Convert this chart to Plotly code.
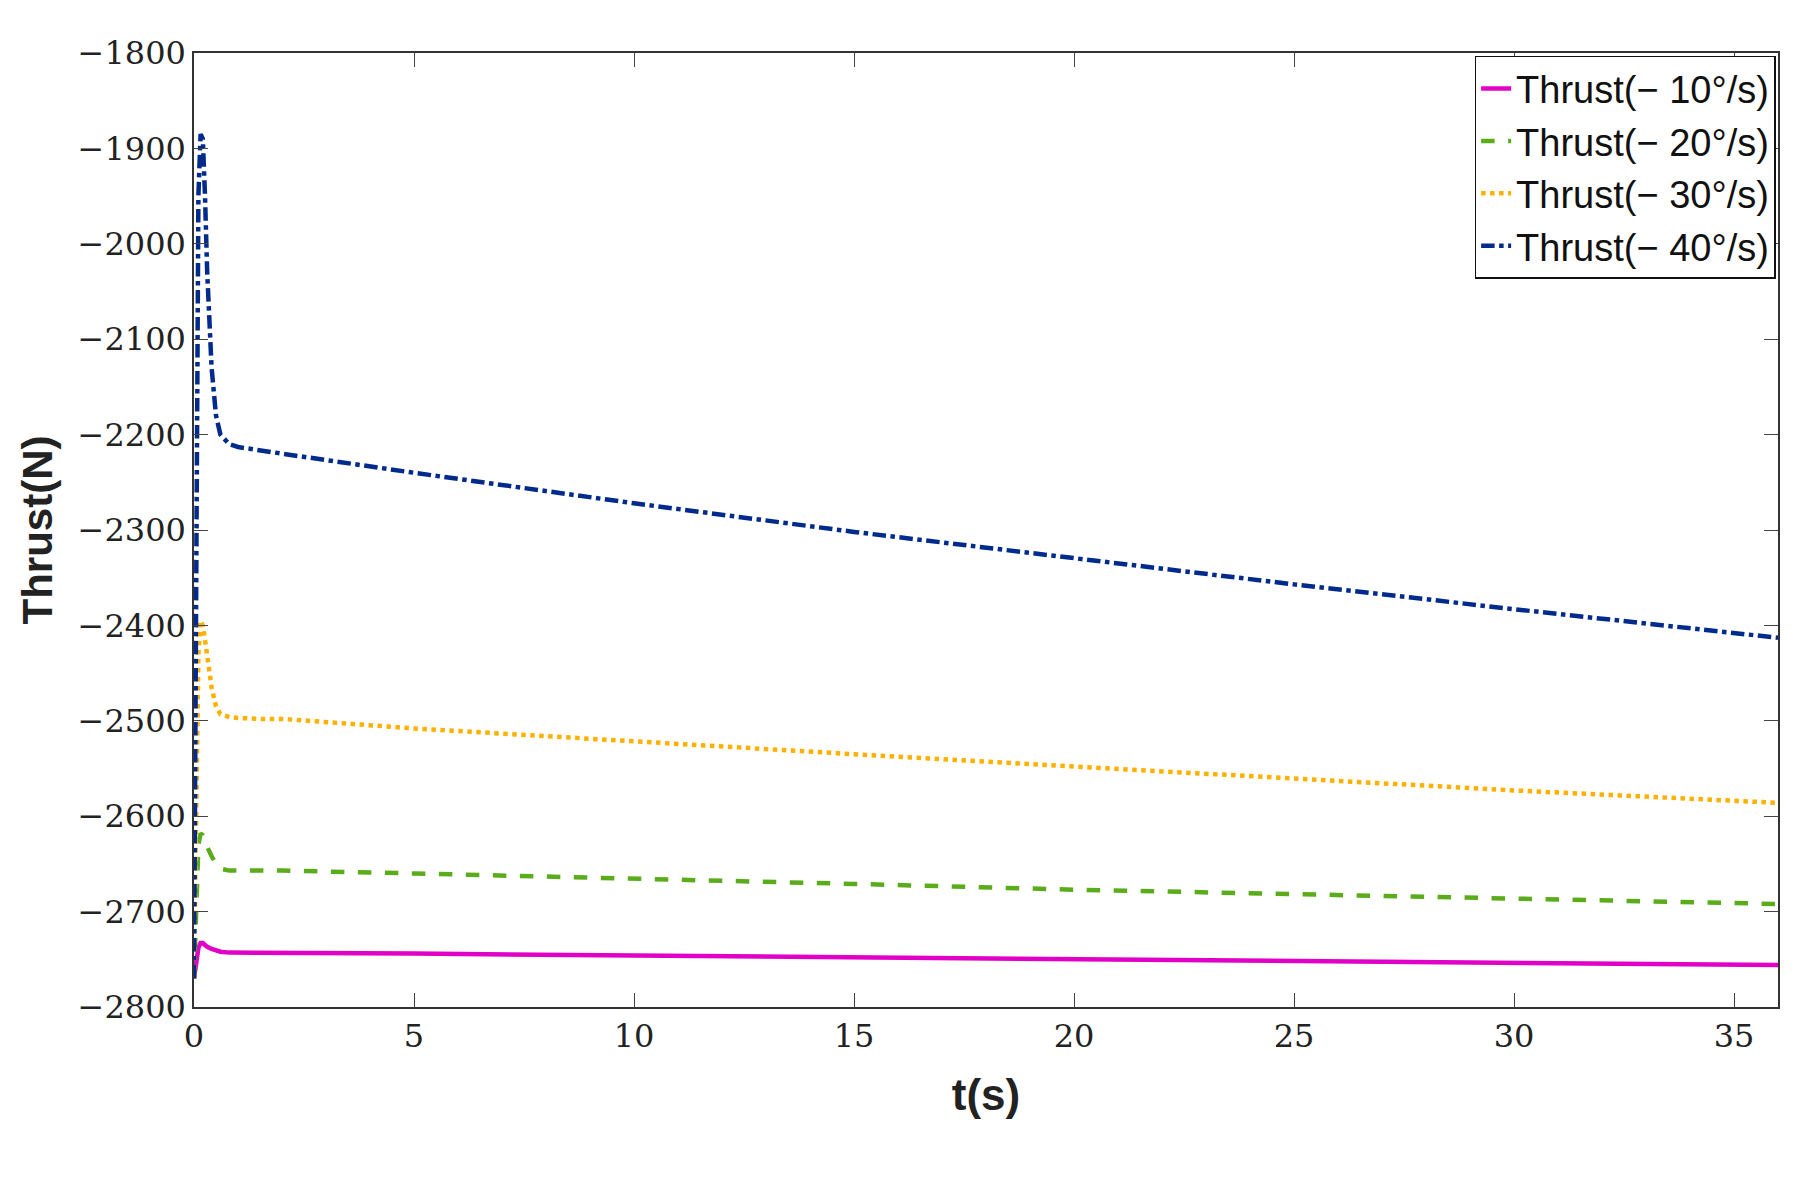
import plotly.graph_objects as go

t = [0, 0.05, 0.1, 0.15, 0.2, 0.25, 0.3, 0.4, 0.5, 0.6, 0.8, 1.0, 1.5, 2, 5, 10, 15, 20, 25, 30, 36]
f10 = [-2770, -2755, -2738, -2733, -2733, -2735, -2737, -2739, -2741, -2742, -2743, -2743, -2743, -2743, -2744, -2746, -2748, -2750, -2752, -2753, -2756]
f20 = [-2770, -2700, -2630, -2618, -2620, -2625, -2632, -2642, -2650, -2655, -2657, -2657, -2657, -2657, -2660, -2665, -2671, -2677, -2682, -2686, -2692]
f30 = [-2770, -2600, -2430, -2395, -2400, -2415, -2435, -2465, -2485, -2493, -2496, -2497, -2498, -2498, -2508, -2522, -2535, -2548, -2561, -2573, -2586]
f40 = [-2770, -2300, -1950, -1885, -1890, -1950, -2030, -2130, -2180, -2200, -2210, -2213, -2216, -2220, -2240, -2272, -2302, -2330, -2357, -2383, -2413]

series = [("Thrust(\u2212 10°/s)", f10, "#e000c8", "solid"),
          ("Thrust(\u2212 20°/s)", f20, "#5aac1a", "dash"),
          ("Thrust(\u2212 30°/s)", f30, "#ffb000", "dot"),
          ("Thrust(\u2212 40°/s)", f40, "#002a8c", "dashdot")]

fig = go.Figure()
for name, y, c, d in series:
    fig.add_trace(go.Scatter(x=t, y=y, name=name, mode="lines",
                             line=dict(color=c, dash=d, width=4.5)))

ax = dict(showline=True, linecolor="#333", linewidth=1.5, mirror="ticks", ticks="inside",
          ticklen=14, showgrid=False, zeroline=False,
          tickfont=dict(family="DejaVu Serif", size=32, color="#222"))
fig.update_layout(
    width=1814, height=1180, plot_bgcolor="white", paper_bgcolor="white",
    margin=dict(l=186, r=44, t=45, b=181),
    xaxis=dict(range=[0, 36], dtick=5, title=dict(text="<b>t(s)</b>", font=dict(family="Liberation Sans", size=44, color="#222"), standoff=25), **ax),
    yaxis=dict(range=[-2800, -1800], dtick=100, title=dict(text="<b>Thrust(N)</b>", font=dict(family="Liberation Sans", size=42, color="#222"), standoff=12), **ax),
    legend=dict(x=0.9985, y=0.997, xanchor="right", yanchor="top", bordercolor="#111", borderwidth=1.5,
                bgcolor="white", font=dict(family="Liberation Sans Narrow, Liberation Sans", size=38, color="#111"),
                tracegroupgap=0),
)
fig.write_html("out.html")
